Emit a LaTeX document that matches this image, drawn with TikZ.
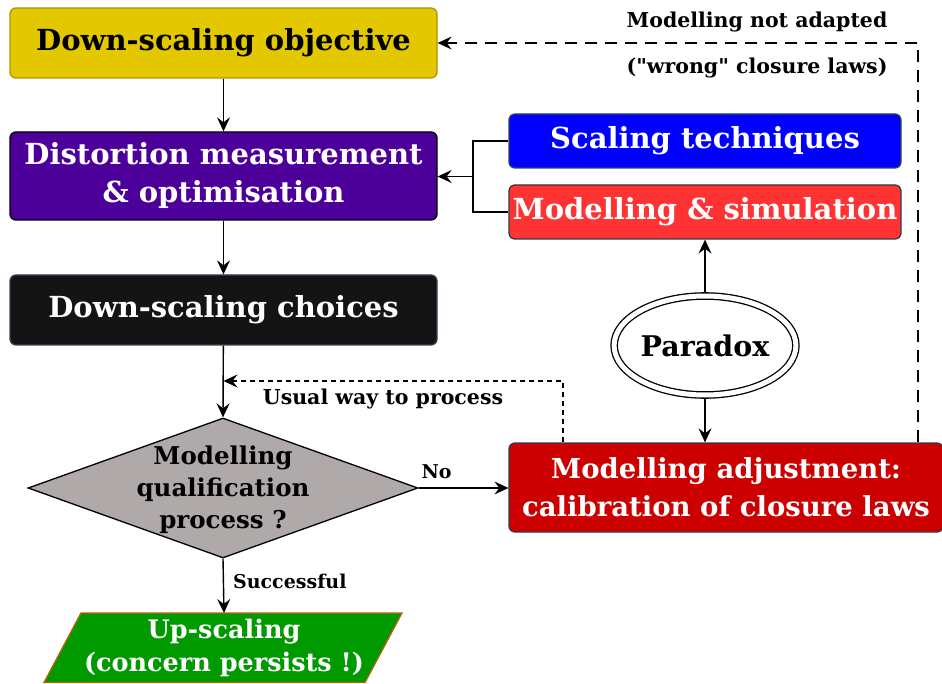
\documentclass[tikz,border=0pt]{standalone}
\usepackage{fontspec}
\setmainfont{DejaVu Serif}
\usetikzlibrary{shapes.geometric,arrows.meta}
\definecolor{cyel}{HTML}{E3C800}
\definecolor{cyelb}{HTML}{B09500}
\definecolor{cpur}{HTML}{4C0099}
\definecolor{cblk}{HTML}{141414}
\definecolor{cslate}{HTML}{314354}
\definecolor{cgry}{HTML}{AFA9A9}
\definecolor{cgreen}{HTML}{009900}
\definecolor{corange}{HTML}{B46504}
\definecolor{cblue}{HTML}{0000FF}
\definecolor{cred}{HTML}{FF3333}
\definecolor{cdred}{HTML}{CC0000}
\definecolor{cdk}{HTML}{36393D}
\begin{document}
\begin{tikzpicture}[x=1pt,y=-1pt,
  box/.style={draw, rounded corners=6pt, line width=1.3pt, minimum width=427pt, minimum height=70pt,
    inner sep=0pt, align=center, font=\bfseries\fontsize{29}{38}\selectfont},
  conn/.style={line width=1.4pt, -{Stealth[length=14pt,width=13pt,inset=5pt]}},
  lab/.style={font=\bfseries\fontsize{20.5}{22}\selectfont, inner sep=0pt},
  slab/.style={font=\bfseries\fontsize{19}{22}\selectfont, inner sep=0pt},
]
\useasboundingbox (0,0) rectangle (942,684);

\node[box, fill=cyel, draw=cyelb, text=black] (obj) at (223.5,43) {Down-scaling objective};
\node[box, fill=cpur, draw=black, text=white, minimum height=88pt] (dist) at (223.5,176) {Distortion measurement\\\& optimisation};
\node[box, fill=cblk, draw=cslate, text=white] (choice) at (223.5,310) {Down-scaling choices};
\node[box, fill=cblue, draw=cslate, text=white, minimum width=392pt, minimum height=54pt] (scal) at (705,141) {Scaling techniques};
\node[box, fill=cred, draw=cdk, text=white, minimum width=392pt, minimum height=54pt] (msim) at (705,212) {Modelling \& simulation};
\node[box, fill=cdred, draw=cdk, text=white, minimum width=434pt, minimum height=89pt,
  font=\bfseries\fontsize{27.5}{38}\selectfont] (adj) at (726,487.5) {Modelling adjustment:\\calibration of closure laws};

\node[ellipse, draw, line width=1.3pt, double, double distance=5pt, minimum width=173pt, minimum height=99pt,
  inner sep=0pt, font=\bfseries\fontsize{28.5}{30}\selectfont] (par) at (705,345.5) {Paradox};

\node[diamond, draw, fill=cgry, line width=1.3pt, minimum width=390pt, minimum height=140pt, inner sep=0pt] (dia) at (223,488) {};
\node[align=center, inner sep=0pt, font=\bfseries\fontsize{24.5}{32}\selectfont] (diatext) at (223,490) {Modelling\\qualification\\process ?};

\draw[fill=cgreen, draw=corange, line width=1.3pt] (81,613) -- (402,613) -- (365,682.5) -- (44,682.5) -- cycle;
\coordinate (up) at (224,613);
\node[align=center, inner sep=0pt, text=white, font=\bfseries\fontsize{25.5}{33}\selectfont] (uptext) at (224,648) {Up-scaling\\(concern persists !)};

\draw[conn] (obj) -- (dist);
\draw[conn] (dist) -- (choice);
\draw[conn] (choice) -- (dia.north);
\draw[conn] (dia.south) -- (up) node[slab, pos=0.42, anchor=west, xshift=9pt] (succ) {Successful};
\draw[conn] (dia.east) -- (adj.west |- dia.east) node[slab, pos=0.2, anchor=south, yshift=9pt] (no) {No};

\coordinate (j) at (473,176.5);
\draw[line width=1.4pt] (scal.west) -| (j) |- (msim.west);
\draw[conn] (j) -- (dist.east |- j);

\draw[conn, shorten <=3.5pt] (par.north) -- (msim.south);
\draw[conn, shorten <=3.5pt] (par.south) -- (par.south |- adj.north);

\coordinate (ua) at (563,381);
\draw[conn, dash pattern=on 5pt off 4pt] (ua |- adj.north) -- (ua) -- (ua -| choice.south);
\node[lab] (usual) at (383,399) {Usual way to process};

\coordinate (la) at (918,43);
\draw[conn, dash pattern=on 12pt off 8pt] (la |- adj.north) -- (la) -- (obj.east);
\node[lab] (mna) at (757,22) {Modelling not adapted};
\node[lab] (wcl) at (757,68) {(\textquotedbl wrong\textquotedbl{} closure laws)};
\end{tikzpicture}
\end{document}
